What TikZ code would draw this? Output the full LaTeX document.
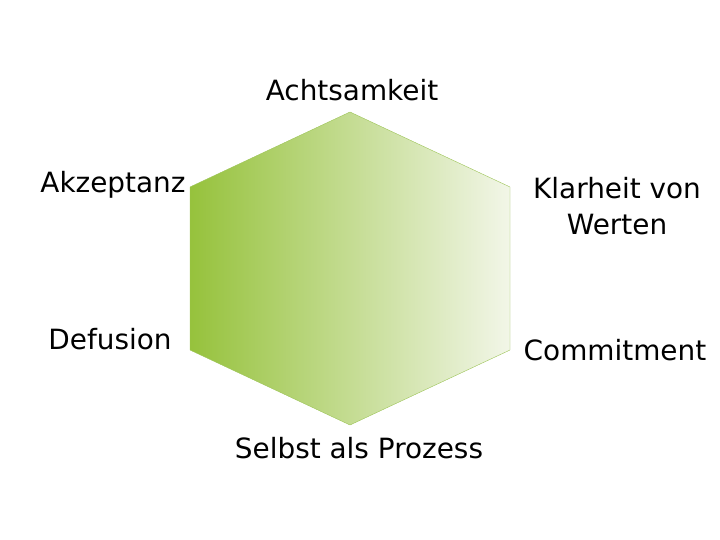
\documentclass[tikz,border=0pt]{standalone}
\usepackage{fontspec}
\setmainfont{DejaVu Sans}
\begin{document}
\begin{tikzpicture}[x=1bp,y=-1bp,
  lab/.style={font=\fontsize{28}{36}\selectfont,text=black,align=center,inner sep=0pt}]
\useasboundingbox (0,0) rectangle (720,540);
\coordinate (t) at (350,112);
\coordinate (ul) at (190,187);
\coordinate (ll) at (190,350);
\coordinate (b) at (350,425);
\coordinate (lr) at (510,350);
\coordinate (ur) at (510,187);
\fill[black!15,xshift=2,yshift=3] (t)--(ul)--(ll)--(b)--(lr)--(ur)--cycle;
\shade[left color={rgb,255:red,150;green,194;blue,60},right color={rgb,255:red,242;green,246;blue,232},draw={rgb,255:red,160;green,200;blue,90}] (t)--(ul)--(ll)--(b)--(lr)--(ur)--cycle;
\node[lab] (a) at (352,90) {Achtsamkeit};
\node[lab] (k) at (113,185) {Akzeptanz};
\node[lab] (w) at (617,206) {Klarheit von\\Werten};
\node[lab] (d) at (110,339) {Defusion};
\node[lab] (c) at (615,350) {Commitment};
\node[lab] (s) at (359,448) {Selbst als Prozess};
\end{tikzpicture}
\end{document}
